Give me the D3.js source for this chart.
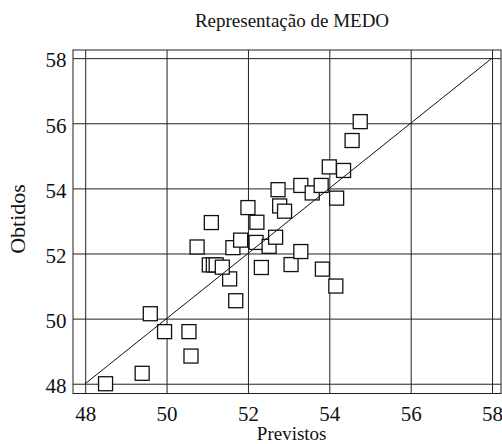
<!DOCTYPE html>
<html>
<head>
<meta charset="utf-8">
<script src="https://cdn.jsdelivr.net/npm/d3@7"></script>
<style>
  body { margin: 0; background: #fff; }
  svg { display: block; font-family: "Liberation Serif", "Times New Roman", serif; }
</style>
</head>
<body>
<svg></svg>
<script>
let previstos = [48.5, 49.4, 49.6, 49.95, 50.55, 50.6, 51.7, 51.55, 51.05, 51.15, 51.22, 51.37,
  50.75, 51.63, 51.82, 52.2, 52.52, 52.68, 52.33, 53.06, 53.3, 53.83, 54.16, 51.1, 52.22,
  52.0, 52.74, 52.78, 52.9, 53.3, 53.58, 53.8, 54.18, 54.0, 54.35, 54.56, 54.76]
let obtidos = [48.0, 48.32, 50.15, 49.6, 49.6, 48.85, 50.55, 51.22, 51.65, 51.65, 51.65, 51.58,
  52.2, 52.18, 52.41, 52.34, 52.22, 52.5, 51.57, 51.66, 52.06, 51.52, 51.0, 52.95, 52.96,
  53.41, 53.96, 53.46, 53.3, 54.09, 53.86, 54.09, 53.7, 54.66, 54.55, 55.47, 56.05]
let ticks = [48, 50, 52, 54, 56, 58]
let title = 'Representação de MEDO'
let xLabel = 'Previstos'
let yLabel = 'Obtidos'

let width = 502
let height = 444
let plotLeft = 73, plotRight = 501, plotTop = 50, plotBottom = 393.5

let svg = d3.select('svg').attr('width', width).attr('height', height)

let xScale = d3.scaleLinear().domain([47.7, 58.22]).range([plotLeft, plotRight])
let yScale = d3.scaleLinear().domain([47.7, 58.25]).range([plotBottom, plotTop])

let ink = '#111'
let serif = '"Liberation Serif", "Times New Roman", serif'

// grid + tick labels
let xAxis = d3.axisBottom(xScale).tickValues(ticks).tickFormat(d3.format('d'))
  .tickSizeInner(-(plotBottom - plotTop)).tickSizeOuter(0).tickPadding(13)
let yAxis = d3.axisLeft(yScale).tickValues(ticks).tickFormat(d3.format('d'))
  .tickSizeInner(-(plotRight - plotLeft)).tickSizeOuter(0).tickPadding(6.5)

let gx = svg.append('g').attr('transform', 'translate(0,' + plotBottom + ')').call(xAxis)
let gy = svg.append('g').attr('transform', 'translate(' + plotLeft + ',0)').call(yAxis)

;[gx, gy].forEach(g => {
  g.attr('font-family', serif).attr('font-size', 21)
  g.select('.domain').remove()
  g.selectAll('.tick line').attr('stroke', '#222').attr('stroke-width', 1)
  g.selectAll('.tick text').attr('fill', ink)
})
gy.selectAll('.tick text').attr('dy', '0.42em')

// frame
svg.append('rect')
  .attr('x', plotLeft).attr('y', plotTop)
  .attr('width', plotRight - plotLeft).attr('height', plotBottom - plotTop)
  .attr('fill', 'none').attr('stroke', '#222').attr('stroke-width', 1)

// points
let points = previstos.map((p, i) => ({ p: p, o: obtidos[i] }))
let size = 14
svg.append('g').selectAll('rect')
  .data(points)
  .enter()
  .append('rect')
  .attr('x', d => xScale(d.p) - size / 2)
  .attr('y', d => yScale(d.o) - size / 2)
  .attr('width', size)
  .attr('height', size)
  .attr('fill', '#fff')
  .attr('stroke', ink)
  .attr('stroke-width', 1.3)

// diagonal y = x
svg.append('line')
  .attr('x1', xScale(48)).attr('y1', yScale(48))
  .attr('x2', xScale(58)).attr('y2', yScale(58))
  .attr('stroke', ink).attr('stroke-width', 1)

// titles
svg.append('text')
  .attr('x', 292).attr('y', 26.5)
  .attr('text-anchor', 'middle')
  .attr('fill', ink)
  .attr('font-family', serif)
  .style('font-size', '19px')
  .text(title)

svg.append('text')
  .attr('x', 291.7).attr('y', 440)
  .attr('text-anchor', 'middle')
  .attr('fill', ink)
  .attr('font-family', serif)
  .style('font-size', '19px')
  .text(xLabel)

svg.append('text')
  .attr('transform', 'translate(25,219) rotate(-90)')
  .attr('text-anchor', 'middle')
  .attr('fill', ink)
  .attr('font-family', serif)
  .style('font-size', '22px')
  .text(yLabel)
</script>
</body>
</html>
